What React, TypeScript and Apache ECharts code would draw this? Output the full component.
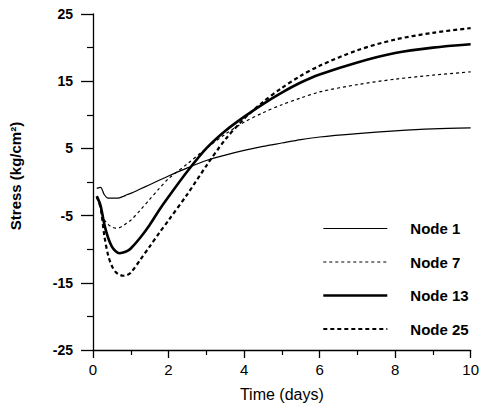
import React, { useEffect, useRef } from "react";
import * as echarts from "echarts";

const time = [0.1, 0.2, 0.3, 0.4, 0.5, 0.6, 0.7, 0.8, 0.9, 1.0, 1.25, 1.5, 1.75, 2.0, 2.5, 3.0, 3.5, 4.0, 4.5, 5.0, 5.5, 6.0, 7.0, 8.0, 9.0, 10.0];
const node1 = [-0.95, -0.8, -1.9, -2.4, -2.4, -2.4, -2.35, -2.15, -1.9, -1.7, -1.05, -0.4, 0.25, 0.9, 2.1, 3.2, 4.0, 4.7, 5.3, 5.8, 6.3, 6.7, 7.2, 7.6, 7.9, 8.05];
const node7 = [-2.2, -3.8, -5.6, -6.3, -6.7, -6.85, -6.8, -6.5, -6.1, -5.7, -4.2, -2.6, -1.0, 0.5, 2.7, 5.0, 7.1, 8.9, 10.3, 11.5, 12.5, 13.4, 14.5, 15.3, 15.9, 16.4];
const node13 = [-2.1, -3.5, -6.3, -8.3, -9.6, -10.3, -10.6, -10.5, -10.3, -9.9, -8.3, -6.4, -4.2, -2.2, 1.6, 5.0, 7.6, 9.7, 11.6, 13.3, 14.8, 16.0, 17.8, 19.2, 20.0, 20.5];
const node25 = [-2.2, -3.8, -8.0, -10.9, -12.5, -13.4, -13.8, -13.95, -13.85, -13.5, -11.6, -9.6, -7.6, -5.7, -1.8, 2.4, 6.3, 9.4, 11.9, 14.0, 15.8, 17.3, 19.6, 21.2, 22.2, 22.9];

const seriesNames = ["Node 1", "Node 7", "Node 13", "Node 25"];
const seriesValues = [node1, node7, node13, node25];
const lineWidths = [1.2, 1.2, 2.6, 2.2];
const lineTypes: any[] = ["solid", [3, 3], "solid", [4, 3]];

export default function App() {
  const ref = useRef<HTMLDivElement>(null);
  useEffect(() => {
    if (!ref.current) return;
    const chart = echarts.init(ref.current, undefined, { renderer: "svg" });
    const font = "Liberation Sans, Arial, sans-serif";
    chart.setOption({
      animation: false,
      backgroundColor: "#fff",
      grid: { left: 92, right: 7, top: 14, bottom: 61, containLabel: false },
      legend: {
        orient: "vertical",
        left: 317,
        top: 216,
        itemWidth: 64,
        itemHeight: 14,
        itemGap: 18.5,
        itemStyle: { opacity: 0 },
        data: seriesNames.map((name, i) => ({
          name,
          itemStyle: { opacity: 0 },
          lineStyle: { color: "#000", width: lineWidths[i], type: lineTypes[i], opacity: 1 },
        })),
        textStyle: { fontFamily: font, fontSize: 15, fontWeight: "bold", color: "#000", padding: [0, 0, 0, 18] },
      },
      xAxis: {
        type: "value",
        min: 0,
        max: 10,
        interval: 2,
        name: "Time (days)",
        nameLocation: "middle",
        nameGap: 36,
        nameTextStyle: { fontFamily: font, fontSize: 16, color: "#000" },
        axisLine: { show: true, onZero: false, lineStyle: { color: "#000", width: 1.3 } },
        axisTick: { show: true, inside: false, length: 8, lineStyle: { color: "#000", width: 1.3 } },
        minorTick: { show: true, splitNumber: 2, length: 5, lineStyle: { color: "#000", width: 1.2 } },
        axisLabel: { fontFamily: font, fontSize: 15, color: "#000", margin: 12 },
        splitLine: { show: false },
      },
      yAxis: {
        type: "value",
        min: -25,
        max: 25,
        interval: 10,
        name: "Stress (kg/cm²)",
        nameLocation: "middle",
        nameGap: 70,
        nameTextStyle: { fontFamily: font, fontSize: 15, fontWeight: "bold", color: "#000", padding: [0, 0, 0, 12] },
        axisLine: { show: true, onZero: false, lineStyle: { color: "#000", width: 1.3 } },
        axisTick: { show: true, inside: false, length: 12, lineStyle: { color: "#000", width: 1.3 } },
        minorTick: { show: true, splitNumber: 2, length: 6, lineStyle: { color: "#000", width: 1.2 } },
        axisLabel: { fontFamily: font, fontSize: 14, fontWeight: "bold", color: "#000", margin: 20 },
        splitLine: { show: false },
      },
      series: seriesNames.map((name, i) => ({
        name,
        type: "line",
        smooth: 0.3,
        symbol: "none",
        data: time.map((t, j) => [t, seriesValues[i][j]]),
        lineStyle: { color: "#000", width: lineWidths[i], type: lineTypes[i] },
        itemStyle: { color: "#000" },
      })),
    });
    return () => chart.dispose();
  }, []);
  return <div ref={ref} style={{ position: "absolute", left: 0, top: 0, width: 482, height: 411 }} />;
}
